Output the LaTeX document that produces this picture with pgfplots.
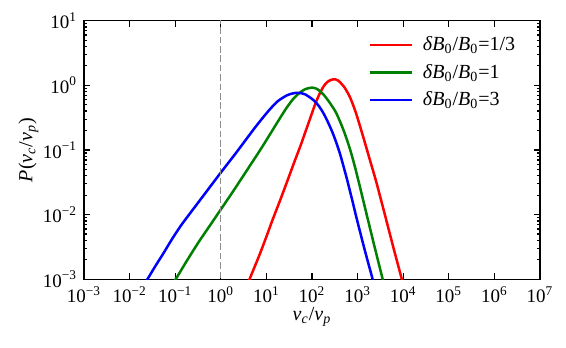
\documentclass[border=0pt]{standalone}
\usepackage{fontspec}
\setmainfont{Liberation Serif}
\usepackage{pgfplots}
\usepackage{pgfplotstable}
\pgfplotsset{compat=1.18}

\newcommand{\dec}[1]{10\textsuperscript{#1}}

% curves, (v_c/v_p, P)
\pgfplotstableread{
x y
0.01622 6.31e-4
0.02455 1e-3
0.03715 1.622e-3
0.05495 2.512e-3
0.08318 4.074e-3
0.1274 6.457e-3
0.1778 8.913e-3
0.2512 1.230e-2
0.5012 2.344e-2
1.0 4.467e-2
2.239 9.333e-2
5.129 0.2042
7.943 0.3020
12.02 0.4285
17.78 0.5689
28.18 0.6998
38.02 0.7499
50.12 0.7674
70.79 0.7244
107.2 0.5929
141.3 0.4786
177.8 0.3715
223.9 0.2692
281.8 0.1862
338.8 0.1318
407.4 0.08913
489.8 0.05623
588.8 0.03467
758.6 0.01698
955.0 8.710e-3
1413 2.951e-3
2138 1e-3
2512 6.31e-4
}\blue

\pgfplotstableread{
x y
0.07079 6.761e-4
0.1023 1e-3
0.1778 1.905e-3
0.3162 3.631e-3
0.5623 6.607e-3
1.0 1.202e-2
1.778 2.188e-2
3.388 4.365e-2
7.943 0.1096
18.20 0.2818
28.18 0.4571
38.90 0.6166
52.48 0.7586
70.79 0.8710
100 0.9226
131.8 0.8710
177.8 0.7244
251.2 0.5248
346.7 0.3631
501.2 0.1950
676.1 0.1047
851.1 0.05888
1047 0.03311
1318 0.01698
1660 8.710e-3
2399 3.020e-3
3548 1e-3
4169 6.31e-4
}\green

\pgfplotstableread{
x y
3.548 7.244e-4
4.266 1e-3
5.495 1.549e-3
7.079 2.399e-3
9.772 4.365e-3
13.49 8.128e-3
19.95 1.660e-2
30.20 3.631e-2
40.74 6.457e-2
54.95 0.1122
70.79 0.1862
91.20 0.3090
117.5 0.5129
151.4 0.7762
186.2 1.0
229.1 1.161
295.1 1.242
371.5 1.189
501.2 0.9550
676.1 0.6607
912.0 0.3802
1318 0.1622
1862 0.06998
2512 0.03388
3311 0.01622
4169 8.710e-3
6310 2.818e-3
9333 1e-3
10965 6.31e-4
}\red

\definecolor{mplred}{RGB}{255,0,0}
\definecolor{mplgreen}{RGB}{0,128,0}
\definecolor{mplblue}{RGB}{0,0,255}

\begin{document}
\begin{tikzpicture}
\begin{axis}[
    scale only axis,
    width=228pt, height=129.3pt,
    xmode=log, ymode=log,
    xmin=1e-3, xmax=1e7, ymin=1e-3, ymax=10,
    xtick={1e-3,1e-2,1e-1,1,10,100,1e3,1e4,1e5,1e6,1e7},
    xticklabels={\dec{−3},\dec{−2},\dec{−1},\dec{0},\dec{1},\dec{2},\dec{3},\dec{4},\dec{5},\dec{6},\dec{7}},
    ytick={1e-3,1e-2,1e-1,1,10},
    yticklabels={\dec{−3},\dec{−2},\dec{−1},\dec{0},\dec{1}},
    xminorticks=false,
    tick align=inside, tick pos=both,
    major tick length=3pt, minor tick length=1.6pt,
    every tick/.style={black, line width=0.6pt},
    axis line style={line width=0.75pt},
    tick label style={font=\fontsize{9.5}{11}\selectfont},
    xlabel={\textit{v}\textsubscript{\textit{c}}/\textit{v}\textsubscript{\textit{p}}},
    ylabel={\textit{P}(\textit{v}\textsubscript{\textit{c}}/\textit{v}\textsubscript{\textit{p}})},
    label style={font=\fontsize{13}{15}\selectfont},
    every axis x label/.style={at={(axis description cs:0.5,-0.16)}, anchor=base},
    every axis y label/.style={at={(axis description cs:-0.113,0.5)}, rotate=90, anchor=base},
    legend style={draw=none, fill=none, inner sep=0pt,
        at={(axis description cs:0.623,0.952)}, anchor=north west,
        font=\fontsize{10}{11}\selectfont, row sep=2.05pt,
        nodes={inner sep=1pt, text height=7.5pt, text depth=2.2pt},
        /tikz/every odd column/.append style={column sep=4pt}},
    legend cell align=left,
    legend image code/.code={\draw[#1] (0pt,0pt) -- (21pt,0pt);},
]
\addplot[mplred, line width=1.25pt, smooth] table {\red};
\addlegendentry{\textit{δB}\textsubscript{0}/\textit{B}\textsubscript{0}=1/3}
\addplot[mplgreen, line width=1.25pt, smooth] table {\green};
\addlegendentry{\textit{δB}\textsubscript{0}/\textit{B}\textsubscript{0}=1}
\addplot[mplblue, line width=1.25pt, smooth] table {\blue};
\addlegendentry{\textit{δB}\textsubscript{0}/\textit{B}\textsubscript{0}=3}
\addplot[black!45, line width=0.6pt, dash pattern=on 3.3pt off 1.4pt, forget plot]
    coordinates {(1,1e-4) (1,100)};
\node[anchor=west, font=\fontsize{11.5}{13}\selectfont] at (axis description cs:-0.173,0.942) {(c)};
\end{axis}
\pgfresetboundingbox
\path ([shift={(-42pt,-34.35pt)}]current axis.south west) rectangle ([shift={(13pt,10.35pt)}]current axis.north east);
\end{tikzpicture}
\end{document}
